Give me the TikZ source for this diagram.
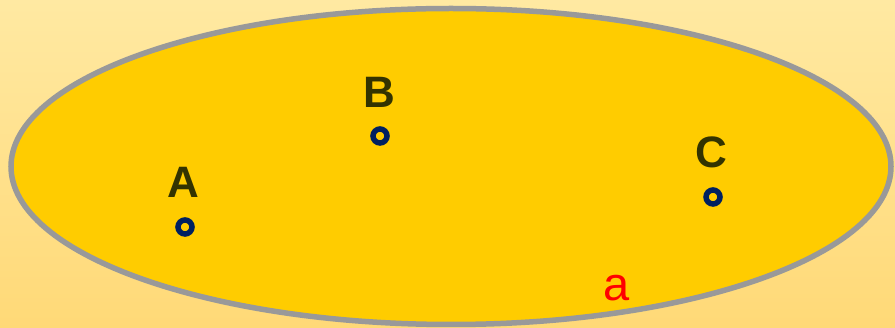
\documentclass[tikz,border=0pt]{standalone}
\usepackage{fontspec}
\setmainfont{Liberation Sans}
\definecolor{bgtop}{HTML}{FFE9A2}
\definecolor{bgbot}{HTML}{FFD977}
\definecolor{ellfill}{HTML}{FFCC00}
\definecolor{ellline}{HTML}{999999}
\definecolor{ptcol}{HTML}{002060}
\definecolor{lblcol}{HTML}{333300}
\begin{document}
\begin{tikzpicture}[x=1pt,y=-1pt,
  pt/.style={circle,draw=ptcol,line width=5.5pt,minimum size=14pt,inner sep=0pt},
  lbl/.style={text=lblcol,font=\fontsize{44}{44}\selectfont\bfseries,inner sep=0pt},
  var/.style={text=red,font=\fontsize{47}{47}\selectfont,inner sep=0pt}]
\shade[top color=bgtop,bottom color=bgbot] (0,0) rectangle (895,328);
\useasboundingbox (0,0) rectangle (895,328);
\draw[fill=ellfill,draw=ellline,line width=5.5pt] (451,166.5) ellipse [x radius=440,y radius=158];
\node[pt] (pA) at (185,227) {};
\node[pt] (pB) at (380,136) {};
\node[pt] (pC) at (713,197) {};
\node[lbl] (lA) at (183,182) {A};
\node[lbl] (lB) at (379,92) {B};
\node[lbl] (lC) at (711,152) {C};
\node[var] (la) at (617,288) {a};
\end{tikzpicture}
\end{document}
